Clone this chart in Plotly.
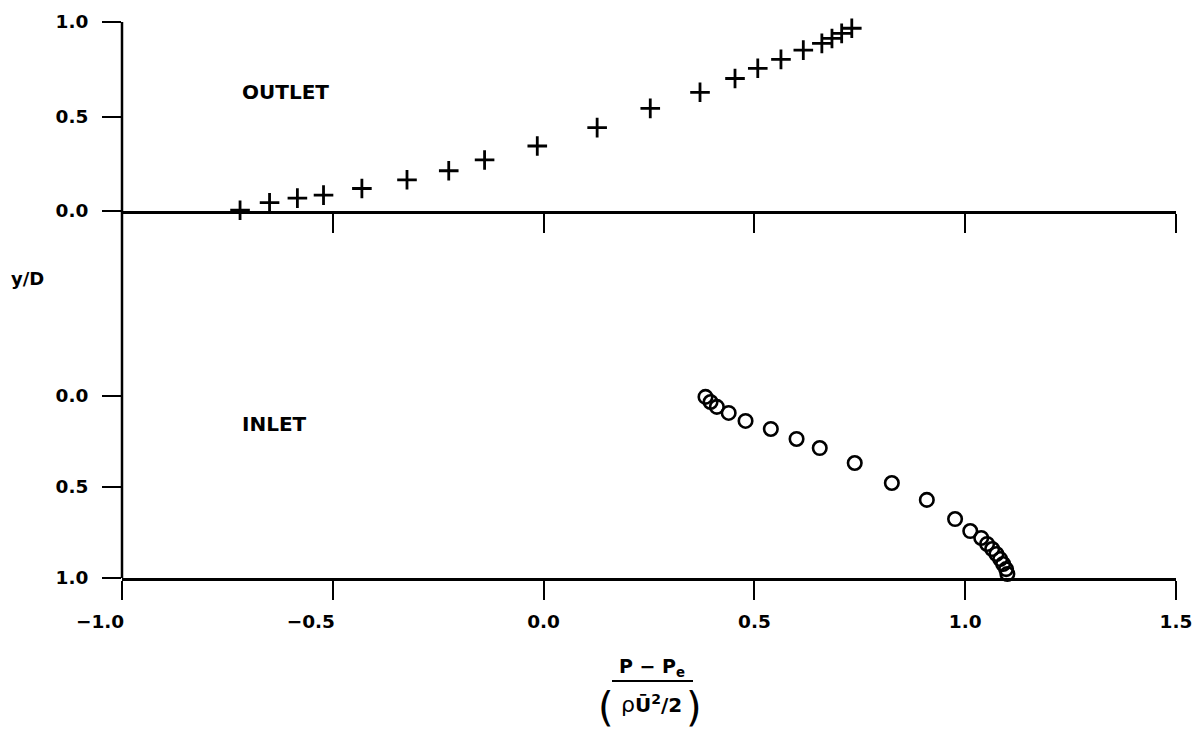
import plotly.graph_objects as go

# Outlet profile (crosses), top panel
outlet_x = [-0.72, -0.65, -0.584, -0.522, -0.431, -0.324, -0.225, -0.14, -0.015, 0.127,
            0.253, 0.371, 0.454, 0.508, 0.563, 0.616, 0.66, 0.684, 0.707, 0.731]
outlet_y = [0.004, 0.044, 0.068, 0.084, 0.119, 0.165, 0.213, 0.27, 0.344, 0.441,
            0.543, 0.628, 0.701, 0.755, 0.802, 0.851, 0.887, 0.913, 0.94, 0.967]

# Inlet profile (circles), bottom panel (y axis reversed)
inlet_x = [0.384, 0.396, 0.411, 0.439, 0.479, 0.539, 0.6, 0.655, 0.738, 0.826, 0.909,
           0.976, 1.012, 1.038, 1.052, 1.064, 1.074, 1.083, 1.09, 1.097, 1.1]
inlet_y = [0.005, 0.033, 0.06, 0.093, 0.137, 0.181, 0.236, 0.286, 0.368, 0.478, 0.571,
           0.676, 0.742, 0.78, 0.813, 0.841, 0.868, 0.896, 0.923, 0.951, 0.978]

x_ticks = [-1.0, -0.5, 0.0, 0.5, 1.0, 1.5]
x_ticklabels = ["−1.0", "−0.5", "0.0", "0.5", "1.0", "1.5"]
y_ticks = [0.0, 0.5, 1.0]
y_ticklabels = ["0.0", "0.5", "1.0"]

FONT = "DejaVu Sans"
# page body has an 8px margin; size the figure so the plot lands where the reference has it
OFF = 8
W, H = 1200 - OFF, 731 - OFF
L, R, T, B = 122 - OFF, 24, 22 - OFF, 153
plot_w = W - L - R
plot_h = H - T - B
X0, Y0 = 122, 578  # reference pixel of plot-area left / bottom


def py(px_y):
    return (Y0 - px_y) / plot_h


def px_(px_x):
    return (px_x - X0) / plot_w


# negative labels: numeric part centred on the tick, minus sign hanging to the left
pad = "<span style='color:rgba(0,0,0,0)'>−−\u2007</span>"
x_text = [t + pad if t.startswith("−") else t for t in x_ticklabels]

fig = go.Figure()
fig.add_trace(go.Scatter(
    x=outlet_x, y=outlet_y, xaxis="x2", yaxis="y", mode="markers",
    marker=dict(symbol="cross-thin", size=14, line=dict(width=2.8, color="black"), color="black"),
    cliponaxis=False, showlegend=False))
fig.add_trace(go.Scatter(
    x=inlet_x, y=inlet_y, xaxis="x", yaxis="y2", mode="markers",
    marker=dict(symbol="circle-open", size=13.5, line=dict(width=2.6, color="black"), color="black"),
    cliponaxis=False, showlegend=False))

tickfont = dict(family=FONT, size=18.5, color="black", weight="bold")
common_x = dict(range=[-1.0, 1.5], tickvals=x_ticks, ticktext=x_text, showgrid=False,
                zeroline=False, showline=True, linecolor="black", linewidth=2.5, automargin=False,
                ticks="outside", ticklen=19, tickwidth=1.7, tickcolor="black", tickfont=tickfont)
common_y = dict(tickvals=y_ticks, ticktext=y_ticklabels, showgrid=False, zeroline=False,
                showline=False, ticks="outside", ticklen=19, tickwidth=1.7, tickcolor="black",
                tickfont=tickfont, ticklabelstandoff=10, automargin=False)

fig.update_layout(
    width=W, height=H, margin=dict(l=L, r=R, t=T, b=B),
    paper_bgcolor="white", plot_bgcolor="white",
    xaxis=dict(domain=[0, 1], anchor="y2", ticklabelstandoff=6, **common_x),
    xaxis2=dict(domain=[0, 1], anchor="y", matches="x", showticklabels=False, **common_x),
    yaxis=dict(domain=[py(211), 1], anchor="x2", range=[0, 1], **common_y),
    yaxis2=dict(domain=[0, py(396)], anchor="x", range=[1, 0], **common_y),
)

# continuous left axis line across both panels
fig.add_shape(type="line", xref="paper", yref="paper", x0=0, x1=0, y0=0, y1=1,
              line=dict(color="black", width=2.5))
# fraction bar of the x-axis title
fig.add_shape(type="line", xref="paper", yref="paper", x0=px_(612), x1=px_(693),
              y0=py(681), y1=py(681), line=dict(color="black", width=2))

ann_font = dict(family=FONT, size=20, color="black", weight="bold")
fig.add_annotation(text="OUTLET", xref="x2", yref="y", x=-0.72, y=0.628,
                   xanchor="left", yanchor="middle", showarrow=False, font=ann_font)
fig.add_annotation(text="INLET", xref="x", yref="y2", x=-0.72, y=0.154,
                   xanchor="left", yanchor="middle", showarrow=False, font=ann_font)
fig.add_annotation(text="y/D", xref="paper", yref="paper", x=px_(9), y=py(278),
                   xanchor="left", yanchor="middle", showarrow=False,
                   font=dict(family=FONT, size=18, color="black", weight="bold"))
fig.add_annotation(text="P − P<sub>e</sub>", xref="paper", yref="paper", x=px_(652), y=py(668),
                   xanchor="center", yanchor="middle", showarrow=False,
                   font=dict(family=FONT, size=19, color="black", weight="bold"))
fig.add_annotation(text="<span style='font-weight:normal;font-size:22px'>ρ</span>Ū<sup>2</sup>/2",
                   xref="paper", yref="paper", x=px_(651), y=py(704),
                   xanchor="center", yanchor="middle", showarrow=False,
                   font=dict(family=FONT, size=20, color="black", weight="bold"))
fig.add_annotation(text="(", xref="paper", yref="paper", x=px_(606), y=py(707),
                   xanchor="center", yanchor="middle", showarrow=False,
                   font=dict(family=FONT, size=40, color="black"))
fig.add_annotation(text=")", xref="paper", yref="paper", x=px_(694), y=py(707),
                   xanchor="center", yanchor="middle", showarrow=False,
                   font=dict(family=FONT, size=40, color="black"))

fig.write_html("out.html")
